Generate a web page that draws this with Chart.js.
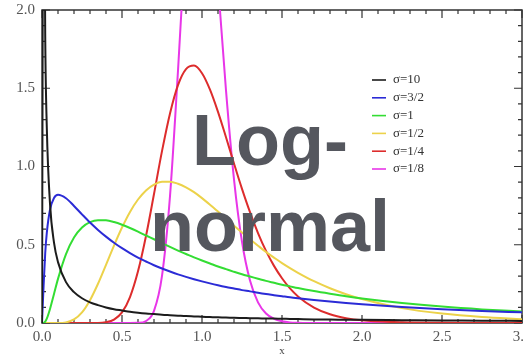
<!DOCTYPE html>
<html>
<head>
<meta charset="utf-8">
<script src="https://cdn.jsdelivr.net/npm/chart.js@4.4.1/dist/chart.umd.min.js"></script>
<style>
  html, body { margin: 0; padding: 0; background: #fff; }
  #wrap { position: relative; width: 524px; height: 358px; overflow: hidden; }
  #overlay {
    position: absolute; left: 120px; top: 97px; width: 300px;
    text-align: center; font: bold 72px 'Liberation Sans', Arial, sans-serif;
    line-height: 86px; color: #55575e; pointer-events: none;
  }
</style>
</head>
<body>
<div id="wrap">
  <canvas id="chart" width="524" height="358"></canvas>
  <div id="overlay">Log-<br>normal</div>
</div>
<script>
const xs = [0, 0.01, 0.02, 0.03, 0.05, 0.075, 0.1, 0.15, 0.2, 0.25, 0.3, 0.35, 0.4, 0.45, 0.5, 0.55, 0.6, 0.65, 0.7, 0.75, 0.8, 0.85, 0.9, 0.95, 1.0, 1.05, 1.1, 1.15, 1.2, 1.25, 1.3, 1.35, 1.4, 1.45, 1.5, 1.55, 1.6, 1.7, 1.8, 1.9, 2.0, 2.25, 2.5, 2.75, 3.0];

const sigma10 = [0, 3.59, 1.85, 1.25, 0.763, 0.514, 0.389, 0.261, 0.197, 0.158, 0.132, 0.114, 0.099, 0.088, 0.080, 0.072, 0.066, 0.061, 0.057, 0.053, 0.050, 0.047, 0.044, 0.042, 0.040, 0.038, 0.036, 0.035, 0.033, 0.032, 0.031, 0.030, 0.029, 0.028, 0.027, 0.026, 0.025, 0.023, 0.022, 0.021, 0.020, 0.018, 0.016, 0.015, 0.013];
const sigma3_2 = [0, 0.239, 0.444, 0.576, 0.724, 0.799, 0.819, 0.797, 0.748, 0.694, 0.642, 0.595, 0.552, 0.513, 0.478, 0.447, 0.418, 0.393, 0.369, 0.348, 0.329, 0.311, 0.295, 0.280, 0.266, 0.253, 0.241, 0.230, 0.220, 0.210, 0.202, 0.193, 0.185, 0.178, 0.171, 0.164, 0.158, 0.147, 0.137, 0.128, 0.120, 0.102, 0.088, 0.077, 0.068];
const sigma1 = [0, 0.001, 0.009, 0.028, 0.090, 0.186, 0.282, 0.440, 0.546, 0.610, 0.644, 0.657, 0.656, 0.645, 0.628, 0.607, 0.584, 0.559, 0.535, 0.510, 0.486, 0.463, 0.441, 0.419, 0.399, 0.380, 0.361, 0.344, 0.327, 0.311, 0.297, 0.283, 0.269, 0.257, 0.245, 0.234, 0.223, 0.204, 0.187, 0.171, 0.157, 0.128, 0.105, 0.087, 0.073];
const sigma1_2 = [0, 0, 0, 0, 0, 0, 0, 0.004, 0.023, 0.068, 0.146, 0.251, 0.372, 0.495, 0.610, 0.710, 0.789, 0.847, 0.884, 0.902, 0.903, 0.890, 0.867, 0.836, 0.798, 0.756, 0.712, 0.667, 0.622, 0.578, 0.535, 0.494, 0.454, 0.418, 0.383, 0.351, 0.321, 0.267, 0.222, 0.184, 0.153, 0.095, 0.060, 0.038, 0.024];
const sigma1_4 = [0, 0, 0, 0, 0, 0, 0, 0, 0, 0, 0, 0, 0.005, 0.022, 0.068, 0.166, 0.330, 0.556, 0.824, 1.098, 1.339, 1.520, 1.622, 1.645, 1.596, 1.491, 1.349, 1.187, 1.019, 0.857, 0.708, 0.575, 0.461, 0.365, 0.286, 0.221, 0.170, 0.099, 0.056, 0.031, 0.017, 0.004, 0.001, 0, 0];
const sigma1_8 = [0, 0, 0, 0, 0, 0, 0, 0, 0, 0, 0, 0, 0, 0, 0, 0, 0.001, 0.013, 0.078, 0.301, 0.811, 1.613, 2.486, 3.088, 3.191, 2.816, 2.169, 1.486, 0.918, 0.519, 0.271, 0.132, 0.061, 0.027, 0.011, 0.004, 0.002, 0, 0, 0, 0, 0, 0, 0, 0];

const labels = ['σ=10', 'σ=3/2', 'σ=1', 'σ=1/2', 'σ=1/4', 'σ=1/8'];
const colors = ['#1c1c1c', '#2b2bd6', '#33dd33', '#ecd24a', '#dd2c2c', '#e836e8'];
const series = [sigma10, sigma3_2, sigma1, sigma1_2, sigma1_4, sigma1_8];

const toPoints = (ys) => ys.map((y, i) => ({ x: xs[i], y: y }));

// box with inward ticks on all four sides
const frameTicks = {
  id: 'frameTicks',
  beforeDatasetsDraw(chart) {
    const { ctx, chartArea: a, scales } = chart;
    ctx.save();
    ctx.strokeStyle = '#333';
    ctx.lineWidth = 1.5;
    ctx.strokeRect(a.left, a.top, a.right - a.left, a.bottom - a.top);
    ctx.lineWidth = 1.2;
    ctx.beginPath();
    for (let i = 0; i <= 30; i++) {
      const px = scales.x.getPixelForValue(i / 10);
      const len = i % 5 === 0 ? 8 : 4;
      ctx.moveTo(px, a.bottom); ctx.lineTo(px, a.bottom - len);
      ctx.moveTo(px, a.top); ctx.lineTo(px, a.top + len);
    }
    for (let i = 0; i <= 20; i++) {
      const py = scales.y.getPixelForValue(i / 10);
      const len = i % 5 === 0 ? 8 : 4;
      ctx.moveTo(a.left, py); ctx.lineTo(a.left + len, py);
      ctx.moveTo(a.right, py); ctx.lineTo(a.right - len, py);
    }
    ctx.stroke();
    ctx.restore();
  }
};

// legend drawn inside the plot
const innerLegend = {
  id: 'innerLegend',
  afterDatasetsDraw(chart) {
    const { ctx } = chart;
    ctx.save();
    ctx.font = "13px 'Liberation Serif', serif";
    ctx.textBaseline = 'middle';
    chart.data.datasets.forEach((ds, i) => {
      const y = 80 + i * 17.8;
      ctx.strokeStyle = ds.borderColor;
      ctx.lineWidth = 1.6;
      ctx.beginPath();
      ctx.moveTo(372, y); ctx.lineTo(386, y);
      ctx.stroke();
      ctx.fillStyle = '#333';
      ctx.fillText(ds.label, 393, y);
    });
    ctx.restore();
  }
};

const chart = new Chart(document.getElementById('chart'), {
  type: 'line',
  data: {
    datasets: series.map((ys, i) => ({
      label: labels[i],
      data: toPoints(ys),
      borderColor: colors[i],
      borderWidth: 2,
      pointRadius: 0,
      fill: false,
      cubicInterpolationMode: 'monotone',
    })),
  },
  options: {
    responsive: false,
    animation: false,
    layout: { padding: { top: 10, right: 2, left: 0, bottom: 0 } },
    plugins: { legend: { display: false }, tooltip: { enabled: false } },
    scales: {
      x: {
        type: 'linear', min: 0, max: 3,
        grid: { display: false, drawTicks: false },
        border: { display: false },
        ticks: {
          stepSize: 0.5, padding: 5, color: '#555',
          font: { family: "'Liberation Serif', serif", size: 15 },
          callback: (v) => v.toFixed(1),
        },
        title: { display: true, text: 'x', color: '#444', padding: 0,
          font: { family: "'Liberation Serif', serif", size: 11 } },
        afterFit: (s) => { s.height = 35; s.paddingLeft = 0; s.paddingRight = 0; },
      },
      y: {
        min: 0, max: 2,
        grid: { display: false, drawTicks: false },
        border: { display: false },
        ticks: {
          stepSize: 0.5, padding: 7, color: '#555',
          font: { family: "'Liberation Serif', serif", size: 15 },
          callback: (v) => v.toFixed(1),
        },
        afterFit: (s) => { s.width = 42; s.paddingTop = 0; s.paddingBottom = 0; },
      },
    },
  },
  plugins: [frameTicks, innerLegend],
});
</script>
</body>
</html>
